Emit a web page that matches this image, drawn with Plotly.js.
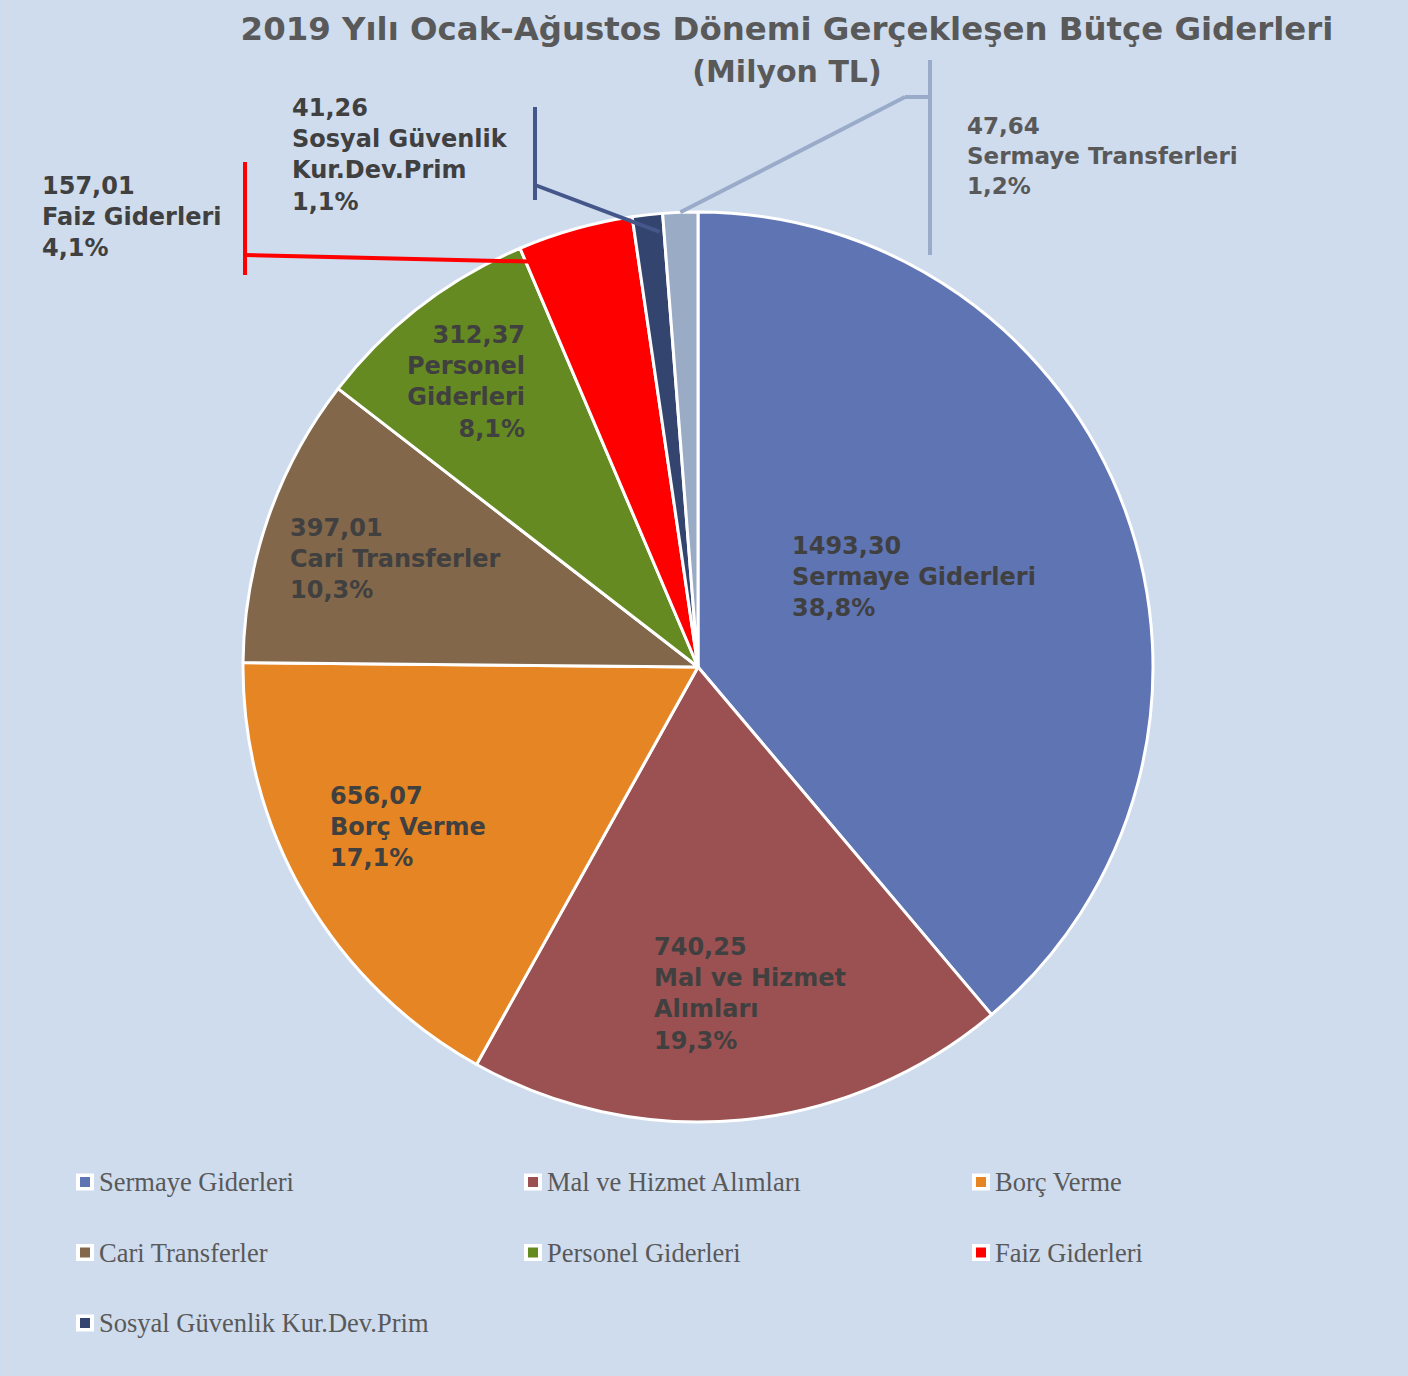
<!DOCTYPE html>
<html><head><meta charset="utf-8">
<script src="https://cdn.plot.ly/plotly-3.0.1.min.js"></script>
<style>html,body{margin:0;padding:0;background:#cfdcee;}</style>
</head><body><div id="chart" style="width:1408px;height:1376px;"></div>
<script>
// ---- data ----
const categories = ["Sermaye Giderleri","Mal ve Hizmet Alımları","Borç Verme","Cari Transferler","Personel Giderleri","Faiz Giderleri","Sosyal Güvenlik Kur.Dev.Prim","Sermaye Transferleri"];
const values = [1493.30, 740.25, 656.07, 397.01, 312.37, 157.01, 41.26, 47.64];
const labelText = ["Sermaye Giderleri","Mal ve Hizmet<br>Alımları","Borç Verme","Cari Transferler","Personel<br>Giderleri","Faiz Giderleri","Sosyal Güvenlik<br>Kur.Dev.Prim","Sermaye Transferleri"];
const legendItems = ["Sermaye Giderleri","Mal ve Hizmet Alımları","Borç Verme","Cari Transferler","Personel Giderleri","Faiz Giderleri","Sosyal Güvenlik Kur.Dev.Prim"];
const colors = ["#5f74b3","#9b5151","#e68523","#82674a","#658a21","#ff0000","#33446f","#9aabc6"];
const titleLine1 = "2019 Yılı Ocak-Ağustos Dönemi Gerçekleşen Bütçe Giderleri";
const titleLine2 = "(Milyon TL)";

// ---- geometry / style ----
const W = 1408, H = 1376, cx = 698, cy = 667, R = 455;
const px = x => x / W, py = y => 1 - y / H;
const total = values.reduce((a,b)=>a+b,0);
const fmt = (v,d) => v.toFixed(d).replace('.', ',');

function piePoint(i, frac, rf) {
  let start = 0; for (let k=0;k<i;k++) start += values[k];
  const f = (start + frac*values[i]) / total;
  const t = 2*Math.PI*f;
  return [px(cx + rf*R*Math.sin(t)), py(cy - rf*R*Math.cos(t))];
}

const labelPos = [
  {x:790, y:530, xa:'left', size:24, color:'#404040'},
  {x:652, y:931, xa:'left', size:24, color:'#404040'},
  {x:328, y:780, xa:'left', size:24, color:'#404040'},
  {x:288, y:512, xa:'left', size:24, color:'#404040'},
  {x:527, y:319, xa:'right', size:24, color:'#404040'},
  {x:40,  y:170, xa:'left', size:24, color:'#404040'},
  {x:290, y:92,  xa:'left', size:24, color:'#404040'},
  {x:965, y:111, xa:'left', size:23, color:'#595959'}
];

const annotations = categories.map((c,i) => ({
  xref:'paper', yref:'paper', x: px(labelPos[i].x), y: py(labelPos[i].y),
  xanchor: labelPos[i].xa, yanchor:'top', align: labelPos[i].xa, showarrow:false,
  text: fmt(values[i],2) + '<br>' + labelText[i] + '<br>' + fmt(values[i]/total*100,1) + '%',
  font:{family:'DejaVu Sans', size:labelPos[i].size, color:labelPos[i].color, weight:'bold'}
}));

const shapes = [];
// legend (drawn manually: 3 columns)
legendItems.forEach((name,i) => {
  const col = i % 3, row = Math.floor(i/3);
  const x0 = 76 + col*448, yc = 1182 + row*70.5;
  shapes.push({type:'rect', xref:'paper', yref:'paper', x0:px(x0), x1:px(x0+18), y0:py(yc-8.5), y1:py(yc+8.5),
    fillcolor:'#ffffff', line:{width:0}});
  shapes.push({type:'rect', xref:'paper', yref:'paper', x0:px(x0+4), x1:px(x0+14), y0:py(yc-5), y1:py(yc+5),
    fillcolor: colors[categories.indexOf(name)], line:{width:0}});
  annotations.push({xref:'paper', yref:'paper', x:px(x0+21), y:py(yc), xanchor:'left', yanchor:'middle',
    showarrow:false, text:name, font:{family:'Liberation Serif', size:26.5, color:'#595959'}});
});

// leader lines
function seg(a, b, color, w) {
  shapes.push({type:'line', xref:'paper', yref:'paper', x0:a[0], y0:a[1], x1:b[0], y1:b[1], line:{color:color, width:w}});
}
const iF = 5, iS = 6, iT = 7;
seg([px(245),py(255)], piePoint(iF,0.03,0.965), '#ff0000', 4);
seg([px(245),py(162)], [px(245),py(275)], '#ff0000', 4);
seg([px(535),py(185)], piePoint(iS,0.85,0.96), '#45578a', 4);
seg([px(535),py(107)], [px(535),py(200)], '#45578a', 4);
seg(piePoint(iT,0.5,1.0), [px(905),py(97)], '#9aabc9', 4);
seg([px(905),py(97)], [px(930),py(97)], '#9aabc9', 4);
seg([px(930),py(60)], [px(930),py(255)], '#9aabc9', 4);
// faint left border
shapes.push({type:'line', xref:'paper', yref:'paper', x0:px(8), x1:px(8), y0:0, y1:1, line:{color:'#d8d9e6', width:2}});

const trace = {
  type:'pie', labels:categories, values:values, sort:false, direction:'clockwise', rotation:0,
  marker:{colors:colors, line:{color:'#ffffff', width:3}},
  textinfo:'none', hoverinfo:'label+value+percent', showlegend:false,
  domain:{x:[px(cx-R), px(cx+R)], y:[py(cy+R), py(cy-R)]}
};

const layout = {
  width:W, height:H, margin:{l:0,r:0,t:0,b:0},
  paper_bgcolor:'#cfdcee', plot_bgcolor:'#cfdcee',
  title:{text: titleLine1 + '<br><span style="font-size:30px">' + titleLine2 + '</span>',
    x:787/W, xanchor:'center', xref:'paper', y:1-40/H, yanchor:'top', yref:'container',
    font:{family:'DejaVu Sans', size:32.4, color:'#595959', weight:'bold'}},
  showlegend:false, annotations:annotations, shapes:shapes
};
Plotly.newPlot('chart', [trace], layout, {displayModeBar:false, staticPlot:true});
</script>
</body></html>
